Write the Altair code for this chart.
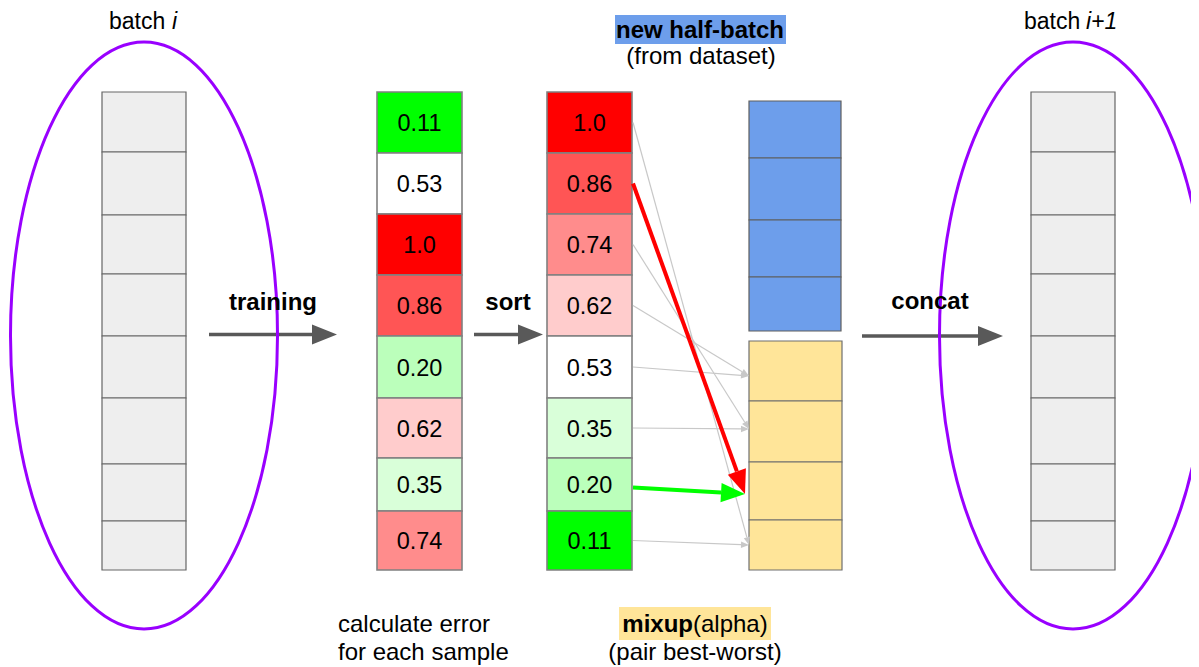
import math
import altair as alt
import pandas as pd

FONT = "Liberation Sans"

# ---------------- data ----------------
errors = [0.11, 0.53, 1.0, 0.86, 0.20, 0.62, 0.35, 0.74]
error_labels = ["0.11", "0.53", "1.0", "0.86", "0.20", "0.62", "0.35", "0.74"]
error_colors = ["#00ff00", "#ffffff", "#ff0000", "#ff5555",
                "#bbffbb", "#ffcccc", "#d9ffd9", "#ff8c8c"]
batch_size = 8
half_batch = 4
highlight_pair = 1  # 0.86 <-> 0.20

# ---------------- layout (pixel positions) ----------------
col_batch_in = (102, 186)
col_err = (377, 462)
col_sorted = (547, 632)
col_mix = (749, 842)
col_batch_out = (1031, 1115)
batch_bounds = [92, 152, 215, 274, 336, 398, 464, 521, 570]
err_bounds = [92, 153, 214, 275, 336, 398, 458, 511, 570]
blue_bounds = [101, 158, 220, 277, 331]
yellow_bounds = [341, 401, 462, 520, 570]
mix_tip_y = [376, 429, 493, 545]

GRAY_CELL = "#eeeeee"
BLUE = "#6d9eeb"
YELLOW = "#ffe599"
PURPLE = "#9900ff"
DARK = "#595959"
THIN = "#c8c8c8"

order = sorted(range(batch_size), key=lambda i: -errors[i])

# ---------------- rects ----------------
rects = []
def add_rect(x1, x2, y1, y2, fill, stroke, sw):
    rects.append(dict(x=x1, x2=x2, y=y1, y2=y2, fill=fill, stroke=stroke, sw=sw))

# label backgrounds
add_rect(615, 786, 15, 44, BLUE, BLUE, 0)
add_rect(619, 771, 607, 640, YELLOW, YELLOW, 0)

for k in range(batch_size):
    add_rect(col_batch_in[0], col_batch_in[1], batch_bounds[k], batch_bounds[k + 1], GRAY_CELL, "#666666", 1.2)
    add_rect(col_batch_out[0], col_batch_out[1], batch_bounds[k], batch_bounds[k + 1], GRAY_CELL, "#666666", 1.2)
    add_rect(col_err[0], col_err[1], err_bounds[k], err_bounds[k + 1], error_colors[k], "#808080", 1.6)
    add_rect(col_sorted[0], col_sorted[1], err_bounds[k], err_bounds[k + 1], error_colors[order[k]], "#808080", 1.6)
for k in range(half_batch):
    add_rect(col_mix[0], col_mix[1] - 1, blue_bounds[k], blue_bounds[k + 1], BLUE, "#5f5f5f", 1.2)
    add_rect(col_mix[0], col_mix[1], yellow_bounds[k], yellow_bounds[k + 1], YELLOW, "#6f6f6f", 1.2)
rects_df = pd.DataFrame(rects)

# ---------------- arrows ----------------
arrows = []
def add_arrow(x1, y1, tx, ty, color, width, head):
    ang = math.atan2(ty - y1, tx - x1)
    arrows.append(dict(x=x1, y=y1,
                       x2=tx - head * math.cos(ang), y2=ty - head * math.sin(ang),
                       tx=tx, ty=ty, angle=math.degrees(ang),
                       color=color, width=width, head=head * head))

add_arrow(209, 334.5, 337, 334.5, DARK, 3.5, 25)
add_arrow(474, 334.5, 543, 334.5, DARK, 3.5, 25)
add_arrow(862, 336, 1003, 336, DARK, 3.5, 25)

def sorted_center(k):
    return (err_bounds[k] + err_bounds[k + 1]) / 2

special = []
for p in range(half_batch):
    target = half_batch - 1 - p
    for k in (p, batch_size - 1 - p):
        if p == highlight_pair:
            special.append((k, target))
        else:
            add_arrow(col_sorted[1] + 1, sorted_center(k), col_mix[0], mix_tip_y[target], THIN, 1.2, 8)
for k, target in special:
    col = "#ff0000" if k < half_batch else "#00ff00"
    sy = sorted_center(k) + (0 if k < half_batch else 3)
    add_arrow(col_sorted[1] + 1, sy, col_mix[0] - 4, mix_tip_y[target] + 1, col, 4, 24)
arrows_df = pd.DataFrame(arrows)

# ---------------- ellipses ----------------
ell_ry = 293.5
ell_rx = 133.5
k_ratio = ell_rx / ell_ry
ELLIPSE = (f"M {-k_ratio:.4f} 0 A {k_ratio:.4f} 1 0 1 0 {k_ratio:.4f} 0 "
           f"A {k_ratio:.4f} 1 0 1 0 {-k_ratio:.4f} 0 Z")
ellipses_df = pd.DataFrame([dict(x=144, y=335.5), dict(x=1073, y=335.5)])
ARROW = "M 0 0 L -2 -0.8 L -2 0.8 Z"

# ---------------- texts ----------------
cell_texts = []
for k in range(batch_size):
    cy = (err_bounds[k] + err_bounds[k + 1]) / 2 + 8.5
    cell_texts.append(dict(x=(col_err[0] + col_err[1]) / 2, y=cy, text=error_labels[k]))
    cell_texts.append(dict(x=(col_sorted[0] + col_sorted[1]) / 2, y=cy, text=error_labels[order[k]]))
cell_df = pd.DataFrame(cell_texts)

normal_center = pd.DataFrame([
    dict(x=701, y=64, text="(from dataset)"),
    dict(x=695, y=660, text="(pair best-worst)"),
])
normal_left = pd.DataFrame([
    dict(x=338, y=632, text="calculate error"),
    dict(x=338, y=660, text="for each sample"),
    dict(x=693, y=632, text="(alpha)"),
])
title_left = pd.DataFrame([
    dict(x=109, y=29, text="batch"),
    dict(x=1024, y=29, text="batch"),
])
italic_left = pd.DataFrame([
    dict(x=172, y=29, text="i"),
    dict(x=1086, y=29, text="i+1"),
])
bold_center = pd.DataFrame([
    dict(x=700, y=38, text="new half-batch"),
    dict(x=273, y=310, text="training"),
    dict(x=508, y=310, text="sort"),
    dict(x=930, y=309, text="concat"),
])
bold_right = pd.DataFrame([dict(x=693, y=632, text="mixup")])

# ---------------- encodings ----------------
W, H = 1183, 659
XS = alt.Scale(domain=[8, 8 + W], nice=False, zero=False)
YS = alt.Scale(domain=[8, 8 + H], nice=False, zero=False, reverse=True)

def X(f):
    return alt.X(f"{f}:Q", scale=XS, axis=None)

def Y(f):
    return alt.Y(f"{f}:Q", scale=YS, axis=None)

rect_layer = alt.Chart(rects_df).mark_rect().encode(
    x=X("x"), x2="x2", y=Y("y"), y2="y2",
    fill=alt.Fill("fill:N", scale=None),
    stroke=alt.Stroke("stroke:N", scale=None),
    strokeWidth=alt.StrokeWidth("sw:Q", scale=None),
)

line_layer = alt.Chart(arrows_df).mark_rule().encode(
    x=X("x"), y=Y("y"), x2="x2", y2="y2",
    color=alt.Color("color:N", scale=None),
    strokeWidth=alt.StrokeWidth("width:Q", scale=None),
)

head_layer = alt.Chart(arrows_df).mark_point(shape=ARROW, filled=True, opacity=1, strokeWidth=0).encode(
    x=X("tx"), y=Y("ty"),
    angle=alt.Angle("angle:Q", scale=None),
    size=alt.Size("head:Q", scale=None),
    color=alt.Color("color:N", scale=None),
)

ellipse_layer = alt.Chart(ellipses_df).mark_point(
    shape=ELLIPSE, filled=False, strokeWidth=3, color=PURPLE, opacity=1
).encode(x=X("x"), y=Y("y"), size=alt.value(int((2 * ell_ry) ** 2)))

def text_layer(df, size, align="center", weight="normal", style="normal"):
    return alt.Chart(df).mark_text(
        font=FONT, fontSize=size, align=align, baseline="alphabetic",
        fontWeight=weight, fontStyle=style, color="black"
    ).encode(x=X("x"), y=Y("y"), text="text:N")

chart = alt.layer(
    rect_layer,
    line_layer,
    head_layer,
    ellipse_layer,
    text_layer(cell_df, 23.5),
    text_layer(normal_center, 24),
    text_layer(normal_left, 24, align="left"),
    text_layer(title_left, 23, align="left"),
    text_layer(italic_left, 23, align="left", style="italic"),
    text_layer(bold_center, 24, weight="bold"),
    text_layer(bold_right, 24, align="right", weight="bold"),
).properties(
    width=W, height=H,
    autosize=alt.AutoSizeParams(type="none"),
    padding=0,
).configure_view(stroke=None)

chart.save("out.html", embed_options={"renderer": "svg", "actions": False})
